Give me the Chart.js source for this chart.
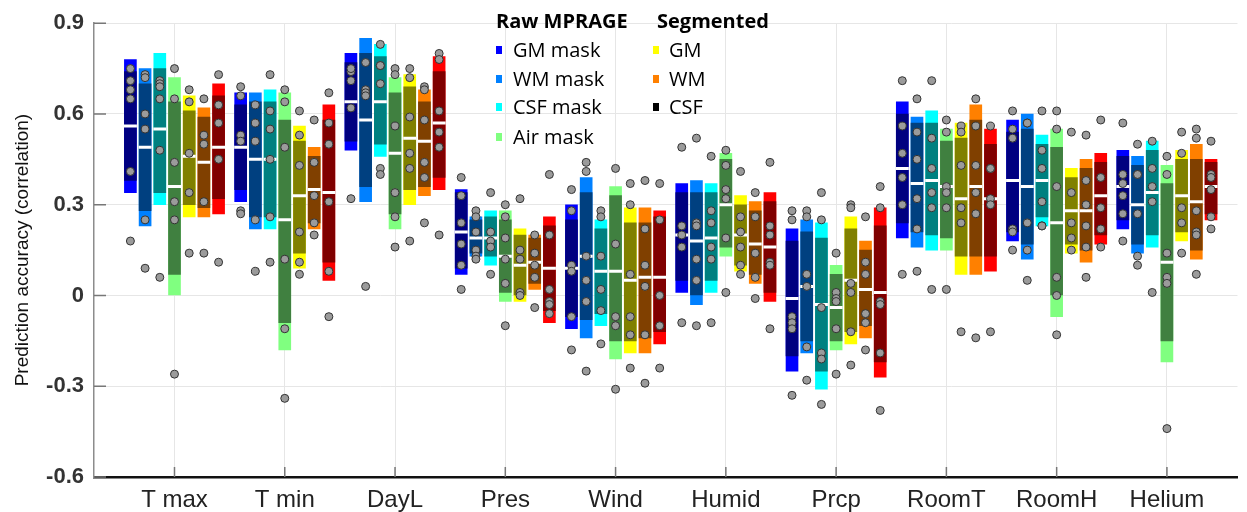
<!DOCTYPE html>
<html>
<head>
<meta charset="utf-8">
<script src="https://cdn.jsdelivr.net/npm/chart.js@4.4.1/dist/chart.umd.min.js"></script>
<style>
  body { margin: 0; background: #fff; }
  #wrap { position: relative; width: 1247px; height: 512px; }
  #legend { position: absolute; left: 0; top: 0; font-family: "Open Sans", sans-serif; color: #000; }
  #legend div { position: absolute; white-space: nowrap; font-size: 20px; line-height: 24px; }
  #legend .head { font-weight: bold; }
  #legend span { position: absolute; width: 6px; height: 8px; }
</style>
</head>
<body>
<div id="wrap">
  <canvas id="chart" width="1247" height="512"></canvas>
  <div id="legend"></div>
</div>
<script>
// categories on the x axis
const categories = ["T max", "T min", "DayL", "Pres", "Wind", "Humid", "Prcp", "RoomT", "RoomH", "Helium"];
const yTicks = [-0.6, -0.3, 0, 0.3, 0.6, 0.9];

// box per category: [outerLo, innerLo, median, innerHi, outerHi]
const gmMaskBox = [
  [0.34, 0.38, 0.56, 0.74, 0.78], [0.31, 0.35, 0.49, 0.63, 0.67], [0.48, 0.51, 0.64, 0.77, 0.80],
  [0.07, 0.09, 0.21, 0.34, 0.35], [-0.11, -0.07, 0.09, 0.25, 0.30], [0.01, 0.05, 0.20, 0.34, 0.37],
  [-0.25, -0.20, -0.01, 0.18, 0.22], [0.19, 0.24, 0.42, 0.60, 0.64], [0.18, 0.21, 0.38, 0.54, 0.58],
  [0.22, 0.25, 0.36, 0.46, 0.48]
];
const wmMaskBox = [
  [0.23, 0.28, 0.49, 0.70, 0.75], [0.22, 0.26, 0.45, 0.64, 0.67], [0.31, 0.36, 0.58, 0.80, 0.85],
  [0.13, 0.14, 0.19, 0.25, 0.26], [-0.14, -0.08, 0.13, 0.34, 0.39], [-0.03, 0.00, 0.18, 0.34, 0.38],
  [-0.19, -0.15, 0.03, 0.21, 0.25], [0.16, 0.21, 0.37, 0.57, 0.59], [0.12, 0.17, 0.36, 0.55, 0.60],
  [0.14, 0.17, 0.30, 0.43, 0.46]
];
const csfMaskBox = [
  [0.30, 0.34, 0.55, 0.75, 0.80], [0.22, 0.26, 0.45, 0.64, 0.68], [0.46, 0.50, 0.64, 0.79, 0.83],
  [0.10, 0.13, 0.19, 0.26, 0.28], [-0.10, -0.06, 0.08, 0.22, 0.25], [0.01, 0.05, 0.19, 0.34, 0.37],
  [-0.31, -0.25, -0.03, 0.19, 0.24], [0.15, 0.20, 0.38, 0.57, 0.61], [0.23, 0.26, 0.38, 0.50, 0.53],
  [0.16, 0.20, 0.34, 0.48, 0.51]
];
const airMaskBox = [
  [0.00, 0.07, 0.36, 0.64, 0.72], [-0.18, -0.09, 0.25, 0.58, 0.67], [0.22, 0.27, 0.47, 0.67, 0.72],
  [-0.02, 0.01, 0.13, 0.25, 0.28], [-0.21, -0.15, 0.08, 0.33, 0.36], [0.13, 0.16, 0.30, 0.45, 0.47],
  [-0.18, -0.15, -0.04, 0.07, 0.10], [0.15, 0.19, 0.36, 0.51, 0.55], [-0.07, 0.00, 0.24, 0.49, 0.55],
  [-0.22, -0.15, 0.11, 0.37, 0.43]
];
const gmSegBox = [
  [0.26, 0.30, 0.46, 0.61, 0.66], [0.09, 0.14, 0.33, 0.51, 0.56], [0.30, 0.35, 0.52, 0.69, 0.73],
  [-0.02, 0.00, 0.10, 0.20, 0.22], [-0.19, -0.15, 0.05, 0.24, 0.29], [0.08, 0.10, 0.20, 0.30, 0.33],
  [-0.16, -0.12, 0.05, 0.22, 0.26], [0.07, 0.13, 0.32, 0.52, 0.57], [0.14, 0.17, 0.28, 0.39, 0.42],
  [0.18, 0.21, 0.33, 0.45, 0.48]
];
const wmSegBox = [
  [0.26, 0.29, 0.44, 0.59, 0.62], [0.22, 0.24, 0.35, 0.46, 0.49], [0.33, 0.36, 0.51, 0.64, 0.68],
  [0.02, 0.04, 0.11, 0.19, 0.20], [-0.19, -0.14, 0.06, 0.24, 0.29], [0.04, 0.07, 0.17, 0.28, 0.31],
  [-0.14, -0.10, 0.02, 0.15, 0.18], [0.07, 0.13, 0.36, 0.58, 0.63], [0.11, 0.15, 0.28, 0.42, 0.45],
  [0.12, 0.15, 0.31, 0.45, 0.50]
];
const csfSegBox = [
  [0.27, 0.32, 0.49, 0.66, 0.70], [0.05, 0.11, 0.34, 0.58, 0.63], [0.35, 0.39, 0.57, 0.74, 0.79],
  [-0.09, -0.05, 0.09, 0.23, 0.26], [-0.16, -0.12, 0.06, 0.26, 0.28], [-0.02, 0.01, 0.16, 0.31, 0.34],
  [-0.27, -0.22, 0.01, 0.23, 0.29], [0.08, 0.13, 0.32, 0.50, 0.55], [0.17, 0.20, 0.33, 0.44, 0.47],
  [0.25, 0.27, 0.36, 0.44, 0.45]
];

// single results (grey dots) per category
const gmMaskDots = [
  [0.75, 0.71, 0.68, 0.65, 0.41, 0.18], [0.69, 0.66, 0.53, 0.51, 0.28, 0.27], [0.74, 0.75, 0.71, 0.62, 0.32],
  [0.39, 0.33, 0.24, 0.17, 0.10, 0.02], [0.35, 0.28, 0.10, 0.08, -0.07, -0.18], [0.49, 0.23, 0.20, 0.16, -0.09],
  [0.28, 0.25, -0.07, -0.09, -0.11, -0.33], [0.71, 0.56, 0.47, 0.39, 0.30, 0.07], [0.61, 0.55, 0.52, 0.22, 0.21, 0.15],
  [0.57, 0.40, 0.37, 0.33, 0.27, 0.18]
];
const wmMaskDots = [
  [0.73, 0.72, 0.60, 0.55, 0.25, 0.09], [0.63, 0.57, 0.51, 0.25, 0.08], [0.77, 0.68, 0.67, 0.66, 0.03],
  [0.28, 0.26, 0.21, 0.15, 0.13, 0.12], [0.44, 0.41, 0.13, 0.05, -0.02, -0.25], [0.52, 0.24, 0.23, 0.12, 0.05, -0.10],
  [0.28, 0.26, 0.07, 0.03, -0.17, -0.28], [0.65, 0.54, 0.45, 0.32, 0.22, 0.08], [0.57, 0.57, 0.24, 0.15, 0.05],
  [0.50, 0.40, 0.40, 0.27, 0.13, 0.10]
];
const csfMaskDots = [
  [0.71, 0.70, 0.69, 0.65, 0.48, 0.06], [0.73, 0.61, 0.55, 0.45, 0.26, 0.11], [0.83, 0.76, 0.76, 0.70, 0.42, 0.40],
  [0.34, 0.21, 0.18, 0.16, 0.07], [0.28, 0.26, 0.13, 0.02, -0.05, -0.16], [0.46, 0.28, 0.24, 0.16, 0.12, -0.09],
  [0.34, 0.25, -0.04, -0.19, -0.21, -0.36], [0.71, 0.52, 0.42, 0.34, 0.29, 0.02], [0.61, 0.48, 0.42, 0.31, 0.23, 0.23],
  [0.51, 0.42, 0.36, 0.31, 0.01]
];
const airMaskDots = [
  [0.75, 0.65, 0.44, 0.31, 0.25, -0.26], [0.68, 0.64, 0.49, 0.12, -0.11, -0.34], [0.75, 0.73, 0.56, 0.34, 0.26, 0.16],
  [0.30, 0.26, 0.19, 0.12, 0.04, -0.10], [0.42, 0.17, -0.07, -0.10, -0.31], [0.48, 0.43, 0.35, 0.32, 0.19, 0.01],
  [0.14, 0.01, -0.01, -0.02, -0.11, -0.26], [0.58, 0.54, 0.36, 0.34, 0.29, 0.02], [0.61, 0.55, 0.36, 0.06, 0.00, -0.13],
  [0.46, 0.40, 0.14, 0.06, 0.04, -0.44]
];
const gmSegDots = [
  [0.68, 0.64, 0.47, 0.34, 0.14], [0.61, 0.53, 0.43, 0.21, 0.11, 0.07], [0.75, 0.72, 0.59, 0.47, 0.42, 0.18],
  [0.32, 0.15, 0.12, 0.01, 0.00], [0.37, 0.30, 0.07, -0.07, -0.13, -0.24], [0.41, 0.26, 0.21, 0.16, 0.10, 0.07],
  [0.30, 0.29, 0.04, 0.01, -0.12, -0.23], [0.56, 0.54, 0.43, 0.29, 0.24, -0.12], [0.54, 0.34, 0.24, 0.19, 0.15],
  [0.54, 0.47, 0.29, 0.24, 0.14]
];
const wmSegDots = [
  [0.65, 0.53, 0.50, 0.31, 0.14], [0.58, 0.44, 0.33, 0.24, 0.20], [0.69, 0.68, 0.58, 0.44, 0.39, 0.24],
  [0.20, 0.14, 0.10, 0.06, -0.04], [0.38, 0.22, 0.10, 0.03, -0.13, -0.29], [0.34, 0.26, 0.14, 0.06, -0.01],
  [0.26, 0.11, 0.07, -0.06, -0.09, -0.18], [0.65, 0.56, 0.43, 0.34, 0.27, -0.14], [0.53, 0.38, 0.30, 0.23, 0.16, 0.06],
  [0.55, 0.52, 0.28, 0.21, 0.20, 0.07]
];
const csfSegDots = [
  [0.73, 0.63, 0.57, 0.45, 0.11], [0.67, 0.57, 0.50, 0.31, 0.08, -0.07], [0.80, 0.78, 0.61, 0.54, 0.49, 0.20],
  [0.40, 0.20, 0.02, -0.02, -0.03, -0.06], [0.37, 0.25, 0.00, -0.10, -0.24], [0.44, 0.23, 0.20, 0.11, 0.10, -0.11],
  [0.36, 0.29, -0.02, -0.03, -0.19, -0.38], [0.56, 0.42, 0.42, 0.32, 0.30, -0.12], [0.58, 0.39, 0.29, 0.22, 0.16],
  [0.51, 0.40, 0.39, 0.35, 0.26, 0.22]
];

// groups: name, box data, dots, outer colour, inner colour, legend colour
const groups = [
  { name: "GM mask",  box: gmMaskBox,  dots: gmMaskDots,  outer: "#0000ff", inner: "#000080", key: "#0000ff" },
  { name: "WM mask",  box: wmMaskBox,  dots: wmMaskDots,  outer: "#0080ff", inner: "#004080", key: "#0080ff" },
  { name: "CSF mask", box: csfMaskBox, dots: csfMaskDots, outer: "#00ffff", inner: "#008080", key: "#00ffff" },
  { name: "Air mask", box: airMaskBox, dots: airMaskDots, outer: "#80ff80", inner: "#408040", key: "#80ff80" },
  { name: "GM",       box: gmSegBox,   dots: gmSegDots,   outer: "#ffff00", inner: "#808000", key: "#ffff00" },
  { name: "WM",       box: wmSegBox,   dots: wmSegDots,   outer: "#ff8000", inner: "#804000", key: "#ff8000" },
  { name: "CSF",      box: csfSegBox,  dots: csfSegDots,  outer: "#ff0000", inner: "#800000", key: "#000000" }
];

const step = 0.1333; // distance between neighbouring bars (x units)

const datasets = [];
groups.forEach((g, gi) => {
  const off = (gi - 3) * step;
  const barBase = { type: "bar", grouped: false, barThickness: 12, borderWidth: 0 };
  datasets.push({ ...barBase, label: g.name + " range", backgroundColor: g.outer, order: 4,
    data: g.box.map((b, i) => ({ x: i + 1 + off, y: [b[0], b[4]] })) });
  datasets.push({ ...barBase, label: g.name + " iqr", backgroundColor: g.inner, order: 3,
    data: g.box.map((b, i) => ({ x: i + 1 + off, y: [b[1], b[3]] })) });
  datasets.push({ type: "scatter", label: g.name + " median", order: 2,
    pointStyle: "line", pointRadius: 6.5, borderColor: "#ffffff", borderWidth: 3,
    data: g.box.map((b, i) => ({ x: i + 1 + off, y: b[2] })) });
  const pts = [];
  g.dots.forEach((arr, i) => arr.forEach(v => pts.push({ x: i + 1 + off, y: v })));
  datasets.push({ type: "scatter", label: g.name + " runs", order: 1,
    pointRadius: 4, backgroundColor: "#9b9b9b", borderColor: "#333333", borderWidth: 1, data: pts });
});

// short inward tick marks like the original figure
const innerTicks = {
  id: "innerTicks",
  afterDraw(chart) {
    const { ctx, chartArea: a, scales } = chart;
    ctx.save();
    ctx.strokeStyle = "#777";
    ctx.lineWidth = 1.5;
    ctx.beginPath();
    scales.x.ticks.forEach(t => {
      const px = scales.x.getPixelForValue(t.value);
      ctx.moveTo(px, a.bottom); ctx.lineTo(px, a.bottom - 10);
    });
    scales.y.ticks.forEach(t => {
      const py = scales.y.getPixelForValue(t.value);
      ctx.moveTo(a.left, py); ctx.lineTo(a.left + 12, py);
    });
    ctx.stroke();
    ctx.restore();
  }
};

new Chart(document.getElementById("chart"), {
  type: "bar",
  data: { datasets },
  plugins: [innerTicks],
  options: {
    responsive: false,
    animation: false,
    events: [],
    layout: { padding: { top: 19, right: 2, left: 0, bottom: 0 } },
    plugins: { legend: { display: false }, tooltip: { enabled: false } },
    scales: {
      x: {
        type: "linear", min: 0.27, max: 10.64, offset: false,
        afterBuildTicks: s => { s.ticks = categories.map((c, i) => ({ value: i + 1 })); },
        afterFit: s => { s.height = 35; },
        ticks: {
          callback: v => categories[Math.round(v) - 1] || "",
          font: { family: "Liberation Sans", size: 24 }, color: "#222",
          padding: 9, maxRotation: 0, autoSkip: false
        },
        grid: { color: "#e6e6e6", drawTicks: false, offset: false },
        border: { color: "#111", width: 2.5 }
      },
      y: {
        type: "linear", min: -0.6, max: 0.9,
        afterBuildTicks: s => { s.ticks = yTicks.map(v => ({ value: v })); },
        afterFit: s => { s.width = 94; },
        ticks: {
          callback: v => (v === 0 ? "0" : v.toFixed(1)),
          font: { family: "Liberation Sans", size: 22, weight: "bold" }, color: "#333",
          padding: 10
        },
        grid: { color: "#e6e6e6", drawTicks: false },
        border: { color: "#8c8c8c", width: 1.5 },
        title: {
          display: true, text: "Prediction accuracy (correlation)",
          font: { family: "Liberation Sans", size: 19 }, color: "#111",
          padding: { top: 11, bottom: 0 }
        }
      }
    }
  }
});

// two-column legend drawn as html text over the canvas
const legendEl = document.getElementById("legend");
function addText(txt, x, cy, cls) {
  const d = document.createElement("div");
  d.textContent = txt;
  if (cls) d.className = cls;
  d.style.left = x + "px";
  d.style.top = (cy - 12) + "px";
  legendEl.appendChild(d);
}
function addKey(color, x, cy) {
  const s = document.createElement("span");
  s.style.background = color;
  s.style.left = x + "px";
  s.style.top = (cy - 4) + "px";
  legendEl.appendChild(s);
}
const rowY = [50, 79, 107, 137];
addText("Raw MPRAGE", 496, 21, "head");
addText("Segmented", 657, 21, "head");
groups.forEach((g, gi) => {
  const col = gi < 4 ? 0 : 1;
  const row = gi < 4 ? gi : gi - 4;
  addKey(g.key, col ? 653 : 496, rowY[row]);
  addText(g.name, col ? 669 : 513, rowY[row]);
});
</script>
</body>
</html>
